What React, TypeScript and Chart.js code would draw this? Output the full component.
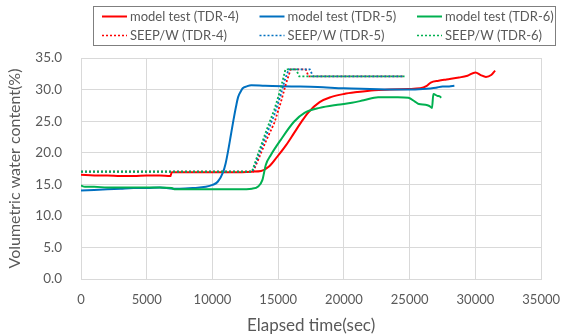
import React, { useEffect, useRef } from "react";
import { Chart, registerables } from "chart.js";

Chart.register(...registerables);

// ---- Data ----
const seriesLabels = [
  "model test (TDR-4)",
  "model test (TDR-5)",
  "model test (TDR-6)",
  "SEEP/W (TDR-4)",
  "SEEP/W (TDR-5)",
  "SEEP/W (TDR-6)",
];

const xTickValues = [0, 5000, 10000, 15000, 20000, 25000, 30000, 35000];
const yTickValues = [0, 5, 10, 15, 20, 25, 30, 35];

const model4Time = [0, 1000, 2000, 3000, 4000, 5000, 6000, 6800, 6900, 8000, 10000, 12000, 13000, 13700, 14300, 14900, 15600, 16200, 16800, 17300, 18150, 19000, 20000, 21000, 22300, 23500, 24900, 25800, 26300, 26600, 27200, 27800, 28750, 29400, 30000, 30400, 30800, 31200, 31500];
const model4Vwc = [16.5, 16.4, 16.4, 16.3, 16.3, 16.4, 16.4, 16.3, 16.9, 16.9, 16.9, 16.9, 17.0, 17.1, 17.8, 19.3, 21.2, 23.1, 25.0, 26.4, 28.0, 28.8, 29.3, 29.6, 29.9, 30.0, 30.1, 30.2, 30.6, 31.1, 31.4, 31.6, 31.9, 32.2, 32.7, 32.3, 32.0, 32.3, 33.0];

const model5Time = [0, 1000, 2000, 3000, 4000, 5000, 6000, 7000, 7500, 8500, 9500, 10000, 10400, 10800, 11000, 11200, 11400, 11600, 11800, 11950, 12150, 12300, 12600, 12950, 14000, 16000, 18000, 20000, 22000, 24000, 25000, 26000, 27000, 27500, 28000, 28400];
const model5Vwc = [14.0, 14.1, 14.2, 14.3, 14.4, 14.4, 14.5, 14.3, 14.3, 14.4, 14.6, 14.9, 15.4, 16.9, 18.3, 20.4, 22.8, 25.2, 27.4, 28.8, 29.7, 30.2, 30.5, 30.7, 30.6, 30.5, 30.4, 30.2, 30.1, 30.0, 30.0, 30.1, 30.3, 30.5, 30.5, 30.6];

const model6Time = [0, 300, 1000, 2000, 3000, 4000, 5000, 6000, 6900, 7100, 8000, 10000, 12000, 13000, 13500, 13800, 14060, 14430, 15180, 16200, 17000, 18150, 19500, 20600, 21500, 22600, 24100, 24900, 25400, 25700, 26200, 26500, 26700, 26800, 27100, 27300, 27400];
const model6Vwc = [14.8, 14.6, 14.6, 14.5, 14.5, 14.5, 14.5, 14.5, 14.4, 14.2, 14.2, 14.2, 14.2, 14.3, 14.7, 15.7, 18.1, 19.6, 22.0, 24.9, 26.3, 27.1, 27.6, 27.9, 28.3, 28.8, 28.8, 28.7, 28.1, 27.7, 27.6, 27.4, 27.1, 29.3, 29.0, 28.9, 28.7];

const seep4Time = [0, 13100, 13600, 14100, 14700, 15200, 15600, 15950, 17100, 17300, 24600];
const seep4Vwc = [17.0, 17.0, 19.5, 22.0, 24.7, 28.0, 31.0, 33.2, 33.2, 32.1, 32.1];

const seep5Time = [0, 13050, 13550, 14100, 14700, 15200, 15500, 15800, 17400, 17650, 24600];
const seep5Vwc = [17.0, 17.0, 19.8, 22.8, 26.0, 29.2, 31.5, 33.2, 33.2, 32.1, 32.1];

const seep6Time = [0, 13000, 13500, 14100, 14700, 15100, 15350, 15550, 16350, 16600, 24600];
const seep6Vwc = [17.0, 17.0, 20.0, 23.5, 26.8, 29.5, 31.5, 33.2, 33.2, 32.1, 32.1];

const RED = "#FF0000";
const BLUE = "#0070C0";
const GREEN = "#00B050";
const TEXT = "#595959";
const GRID = "#D9D9D9";
const FONT = "Lato";

function pts(t: number[], v: number[]) {
  return t.map((x, i) => ({ x, y: v[i] }));
}

const legendPlugin = {
  id: "boxLegend",
  afterDraw(chart: any) {
    const ctx = chart.ctx;
    ctx.save();
    ctx.strokeStyle = "#7F7F7F";
    ctx.lineWidth = 1;
    ctx.strokeRect(93.5, 6.5, 462, 39);
    const ds = chart.data.datasets;
    ds.forEach((d: any, i: number) => {
      const col = i % 3;
      const row = Math.floor(i / 3);
      const x = 102 + col * 157.5;
      const y = 16.5 + row * 19;
      ctx.beginPath();
      ctx.setLineDash(d.borderDash || []);
      ctx.strokeStyle = d.borderColor;
      ctx.lineWidth = d.borderDash ? 1.5 : 2;
      ctx.moveTo(x, y);
      ctx.lineTo(x + 25, y);
      ctx.stroke();
      ctx.setLineDash([]);
      ctx.fillStyle = TEXT;
      ctx.font = `13px ${FONT}`;
      ctx.textBaseline = "middle";
      ctx.textAlign = "left";
      ctx.fillText(d.label, x + 28, y);
    });
    ctx.restore();
  },
};

export default function App() {
  const ref = useRef<HTMLCanvasElement | null>(null);

  useEffect(() => {
    document.body.style.margin = "0";
    const canvas = ref.current!;
    const times = [model4Time, model5Time, model6Time, seep4Time, seep5Time, seep6Time];
    const vals = [model4Vwc, model5Vwc, model6Vwc, seep4Vwc, seep5Vwc, seep6Vwc];
    const colors = [RED, BLUE, GREEN, RED, BLUE, GREEN];
    const datasets = seriesLabels.map((label, i) => {
      const dotted = i >= 3;
      return {
        label,
        data: pts(times[i], vals[i]),
        borderColor: colors[i],
        backgroundColor: colors[i],
        borderWidth: dotted ? 1.8 : 2,
        borderDash: dotted ? [2, 2] : undefined,
        pointRadius: 0,
        fill: false,
        cubicInterpolationMode: dotted ? "default" : "monotone",
        tension: 0,
        order: seriesLabels.length - i,
      };
    });
    const chart = new Chart(canvas, {
      type: "line",
      data: { datasets } as any,
      options: {
        animation: false,
        responsive: false,
        devicePixelRatio: 1,
        layout: { padding: { top: 58, right: 20, left: 0, bottom: 0 } },
        plugins: { legend: { display: false }, tooltip: { enabled: false } },
        scales: {
          x: {
            type: "linear",
            min: 0,
            max: 35000,
            afterBuildTicks: (s: any) => {
              s.ticks = xTickValues.map((v) => ({ value: v }));
            },
            afterFit: (s: any) => {
              s.height = 57;
            },
            ticks: {
              autoSkip: false,
              maxRotation: 0,
              padding: 13,
              color: TEXT,
              font: { family: FONT, size: 13 },
              callback: (v: any) => String(v),
            },
            grid: { color: GRID, drawTicks: false, lineWidth: 1 },
            border: { color: GRID },
            title: {
              display: true,
              text: "Elapsed time(sec)",
              color: TEXT,
              font: { family: FONT, size: 17 },
              padding: { top: 0, bottom: 0 },
            },
          },
          y: {
            type: "linear",
            min: 0,
            max: 35,
            afterBuildTicks: (s: any) => {
              s.ticks = yTickValues.map((v) => ({ value: v }));
            },
            afterFit: (s: any) => {
              s.width = 81;
            },
            ticks: {
              padding: 19,
              color: TEXT,
              font: { family: FONT, size: 13.5 },
              callback: (v: any) => Number(v).toFixed(1),
            },
            grid: { color: GRID, drawTicks: false, lineWidth: 1 },
            border: { color: GRID },
            title: {
              display: true,
              text: "Volumetric water content(%)",
              color: TEXT,
              font: { family: FONT, size: 16 },
              padding: { top: 5, bottom: 0 },
            },
          },
        },
      } as any,
      plugins: [legendPlugin],
    });
    return () => chart.destroy();
  }, []);

  return (
    <div style={{ position: "absolute", left: 0, top: 0, width: 573, height: 336, background: "#fff" }}>
      <canvas ref={ref} width={573} height={336} style={{ display: "block", width: 573, height: 336 }} />
    </div>
  );
}
